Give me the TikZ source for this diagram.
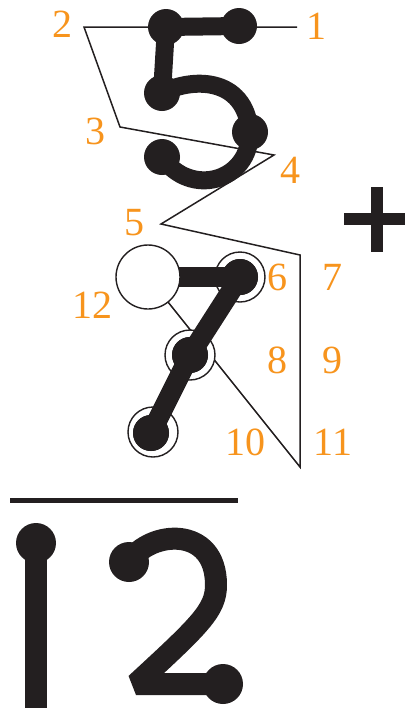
\documentclass[tikz,border=0pt]{standalone}
\usepackage{fontspec}
\newfontfamily\numfont{Liberation Serif}
\usepackage{tikz}
\usetikzlibrary{positioning,calc}
\definecolor{tmorange}{RGB}{247,148,29}
\definecolor{tmblack}{RGB}{35,31,32}

\begin{document}
\begin{tikzpicture}[x=1pt, y=-1pt,
  num/.style={text=tmorange, font=\numfont\fontsize{40}{40}\selectfont, inner sep=0pt,
    text height=27pt, text depth=0pt, anchor=center},
  dot/.style={circle, fill=tmblack, inner sep=0pt, minimum size=#1},
  dot/.default=36pt,
  ring/.style={circle, draw=tmblack, line width=1.4pt, fill=white, inner sep=0pt, minimum size=50pt},
  hollow/.style={circle, draw=tmblack, line width=1.4pt, fill=white, inner sep=0pt, minimum size=64pt},
  zig/.style={tmblack, line width=1.5pt, line join=miter},
  stroke/.style={tmblack, line width=#1},
  stroke/.default=18pt]
\useasboundingbox (0,0) rectangle (405,710);
% path corners of the counting line
\coordinate (c1) at (297,27);
\coordinate (c2) at (84,27);
\coordinate (c3) at (120,127);
\coordinate (c4) at (274,155);
\coordinate (c5) at (161,224);
\coordinate (c6) at (300,255);
\coordinate (c7) at (300,467);
\coordinate (h12) at (148,277);
\draw[zig] (c1) -- (c2) -- (c3) -- (c4) -- (c5) -- (c6) -- (c7) -- (h12);

% the five
\node[dot] (f1) at (166,27) {};
\node[dot] (f2) at (239,26) {};
\node[dot] (f3) at (162,93) {};
\node[dot] (f4) at (250,132) {};
\node[dot] (f5) at (162,157) {};
\draw[stroke] (f1.center) -- (f2.center);
\draw[stroke] (f1.center) -- (f3.center);
\draw[stroke] (f3.center) .. controls (190,78) and (245,75) .. (f4.center)
  .. controls (250,182) and (190,198) .. (f5.center);

% the seven
\node[ring] (r6) at (240,277) {};
\node[ring] (r8) at (190,355) {};
\node[ring] (r10) at (153,432) {};
\node[dot] (s6) at (240,277) {};
\node[dot] (s8) at (190,355) {};
\node[dot] (s10) at (151,433) {};
\draw[stroke=20pt] (h12) -- (s6.center);
\foreach \a/\b in {s6/s8,s8/s10}
  \draw[stroke=20pt] (\a.center) -- (\b.center);
\node[dot] at (s6) {};
\node[dot] at (s8) {};
\node[dot] at (s10) {};
\node[hollow] (o12) at (h12) {};

% counting labels
\node[num] (n1) at (316,26) {1};
\node[num] (n2) at (62,24) {2};
\node[num] (n3) at (95,131) {3};
\node[num] (n4) at (290,170) {4};
\node[num] (n5) at (134,222) {5};
\node[num] (n6) at (277,277) {6};
\node[num] (n7) at (332,277) {7};
\node[num] (n8) at (277,360) {8};
\node[num] (n9) at (332,360) {9};
\node[num] (n10) at (245,442) {10};
\node[num] (n11) at (333,442) {11};
\node[num] (n12) at (92,305) {12};

% plus and fraction bar
\draw[stroke=12pt] (377,187) -- (377,252);
\draw[stroke=12pt] (344,219) -- (405,219);
\draw[stroke=5pt] (10,500) -- (238,500);

% the answer 12
\node[dot=40pt] (a1) at (36,543) {};
\coordinate (a1b) at (36,708);
\draw[stroke=22pt] (a1.center) -- (a1b);
\node[dot=40pt] (a2) at (129,562) {};
\node[dot=40pt] (a3) at (223,684) {};
\draw[stroke=22pt, line join=bevel] (a2.center) .. controls (150,530) and (216,525) .. (216,585)
  .. controls (216,610) and (200,625) .. (136,684) -- (a3.center);
\end{tikzpicture}
\end{document}
